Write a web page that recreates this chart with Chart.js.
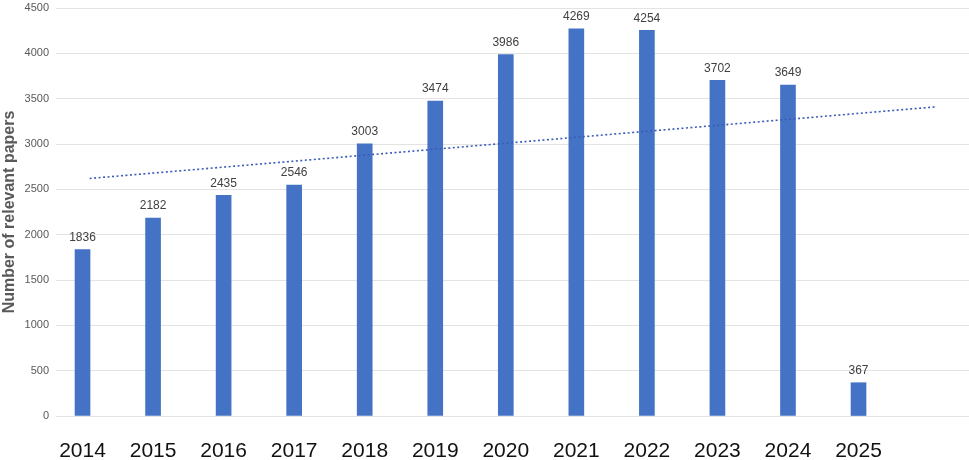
<!DOCTYPE html>
<html>
<head>
<meta charset="utf-8">
<script src="https://cdn.jsdelivr.net/npm/chart.js@4/dist/chart.umd.min.js"></script>
<style>
  body { margin: 0; background: #fff; }
  #wrap { width: 969px; height: 460px; position: relative; }
</style>
</head>
<body>
<div id="wrap"><canvas id="papers"></canvas></div>
<script>
// papers per year
const years = [2014, 2015, 2016, 2017, 2018, 2019, 2020, 2021, 2022, 2023, 2024, 2025];
const papers = [1836, 2182, 2435, 2546, 3003, 3474, 3986, 4269, 4254, 3702, 3649, 367];

// dotted trend line, two ends
const trendX = [2014.1, 2026.1];
const trendY = [2620, 3410];

const yTicks = { min: 0, max: 4500, step: 500 };

const barBlue = "#4472C4";

// value above every bar
const barValues = {
  id: "barValues",
  afterDatasetsDraw(chart) {
    const ctx = chart.ctx;
    const meta = chart.getDatasetMeta(0);
    ctx.save();
    ctx.font = "12px 'Liberation Sans', Arial, sans-serif";
    ctx.fillStyle = "#404040";
    ctx.textAlign = "center";
    ctx.textBaseline = "bottom";
    meta.data.forEach((bar, i) => {
      ctx.fillText(String(papers[i]), bar.x, bar.y - 6);
    });
    ctx.restore();
  }
};

new Chart(document.getElementById("papers"), {
  data: {
    datasets: [
      {
        type: "bar",
        data: years.map((y, i) => ({ x: y, y: papers[i] })),
        backgroundColor: barBlue,
        barThickness: 15,
        order: 2
      },
      {
        type: "line",
        data: trendX.map((x, i) => ({ x: x, y: trendY[i] })),
        borderColor: "#3a5cb8",
        borderWidth: 1.6,
        borderDash: [2, 2.5],
        pointRadius: 0,
        fill: false,
        order: 1
      }
    ]
  },
  plugins: [barValues],
  options: {
    responsive: true,
    maintainAspectRatio: false,
    animation: false,
    layout: { padding: { top: 8, right: 0, left: 0, bottom: 0 } },
    plugins: {
      legend: { display: false },
      tooltip: { enabled: false }
    },
    scales: {
      x: {
        type: "linear",
        offset: false,
        min: 2013.624,
        max: 2026.566,
        grid: { display: false, offset: false },
        border: { display: false },
        ticks: {
          stepSize: 1,
          includeBounds: false,
          autoSkip: false,
          maxRotation: 0,
          padding: 15,
          color: "#111",
          font: { family: "'Liberation Sans', Arial, sans-serif", size: 21 },
          callback: (v) => (years.includes(v) ? String(v) : "")
        },
        afterFit: (scale) => {
          scale.height = 44;
          scale.paddingLeft = 0;
          scale.paddingRight = 0;
        }
      },
      y: {
        min: yTicks.min,
        max: yTicks.max,
        grid: { color: "#e3e3e3", lineWidth: 1, drawTicks: false },
        border: { display: false },
        ticks: {
          stepSize: yTicks.step,
          padding: 7,
          color: "#595959",
          font: { family: "'Liberation Sans', Arial, sans-serif", size: 11 },
          callback: (v) => String(v)
        },
        title: {
          display: true,
          text: "Number of relevant papers",
          color: "#595959",
          padding: { top: 0, bottom: 0 },
          font: { family: "'Liberation Sans', Arial, sans-serif", size: 16, weight: "bold" }
        },
        afterFit: (scale) => {
          scale.width = 56;
          scale.paddingTop = 0;
          scale.paddingBottom = 0;
        }
      }
    }
  }
});
</script>
</body>
</html>
